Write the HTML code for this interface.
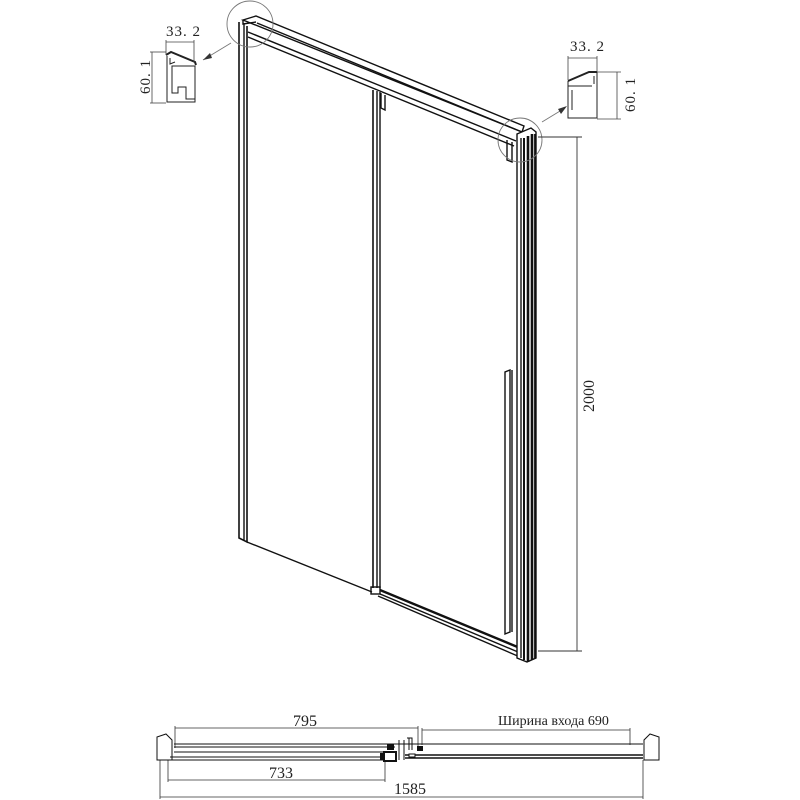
<!DOCTYPE html>
<html><head><meta charset="utf-8"><style>
html,body{margin:0;padding:0;background:#fff;width:800px;height:800px;overflow:hidden}
svg{display:block}
text{font-family:"Liberation Serif","Noto Serif CJK SC",serif;fill:#222}
</style></head><body>
<svg width="800" height="800" viewBox="0 0 800 800" xmlns="http://www.w3.org/2000/svg">
<g stroke="#111" fill="none" stroke-width="1.4">
<path d="M243,20 L256,16 L524,126 L522,132 Z" fill="#fff"/>
<line x1="257" y1="23" x2="522" y2="132"/>
<line x1="248" y1="32" x2="516" y2="141"/>
<line x1="248" y1="37" x2="514" y2="146"/>
<path d="M239,22 L239,538 L247,542 L247,26" stroke-width="1.6"/>
<line x1="244" y1="24" x2="244" y2="540"/>
<path d="M243,20 L243,24 L256,22"/>
<line x1="247" y1="542" x2="372" y2="592"/>
<line x1="373" y1="90" x2="373" y2="588" stroke-width="1.6"/>
<line x1="377" y1="91" x2="377" y2="588"/>
<line x1="380" y1="92" x2="380" y2="588"/>
<path d="M381,93 L381,108 L385,110 L385,95"/>
<rect x="371" y="587" width="9" height="7"/>
<line x1="380" y1="590" x2="520" y2="648" stroke-width="2.4"/>
<line x1="380" y1="594" x2="518" y2="652"/>
<line x1="378" y1="596" x2="520" y2="657"/>
<path d="M505,372 L505,634 L510,632 L510,370 Z"/>
<line x1="512" y1="370" x2="512" y2="632"/>
<path d="M517,134 L531,128 L536,132 L536,658 L527,662 L517,658 Z" fill="#fff"/>
<line x1="521" y1="138" x2="521" y2="658"/>
<line x1="524" y1="138" x2="524" y2="660" stroke-width="2"/>
<line x1="528" y1="136" x2="528" y2="662" stroke-width="2.6"/>
<line x1="532" y1="134" x2="532" y2="660" stroke-width="2.6"/>
<line x1="535" y1="134" x2="535" y2="658" stroke-width="1.8"/>
<path d="M507,140 L507,160 L512,162 L512,142"/>
</g>
<g stroke="#777" fill="none" stroke-width="0.9">
<circle cx="250" cy="24" r="23"/>
<circle cx="520" cy="140" r="22"/>
<line x1="231" y1="43" x2="203" y2="60"/>
<line x1="542" y1="122" x2="565" y2="108"/>
</g>
<path d="M203,60 L210,53 L212,58 Z" fill="#333"/>
<path d="M567,106 L558,109 L561,114 Z" fill="#333"/>
<g stroke="#333" stroke-width="0.9">
<line x1="538" y1="137" x2="582" y2="137"/>
<line x1="538" y1="651" x2="582" y2="651"/>
<line x1="577" y1="137" x2="577" y2="651"/>
</g>
<text font-size="16" transform="translate(594,412) rotate(-90)">2000</text>
<g stroke="#222" fill="none" stroke-width="1">
<path d="M166,55 L171,52 L195,62 L196,65" stroke-width="2"/>
<path d="M167,56 L167,102 L195,102 L195,99 L186,99 L186,87 L178,87 L178,93 L172,93 L172,66 L195,66 L195,99"/>
<path d="M170,58 L170,64 L175,62"/>
<line x1="166" y1="42" x2="194" y2="42" stroke="#444" stroke-width="0.8"/>
<line x1="166" y1="40" x2="166" y2="55" stroke="#444" stroke-width="0.8"/>
<line x1="194" y1="40" x2="194" y2="62" stroke="#444" stroke-width="0.8"/>
<line x1="152" y1="52" x2="152" y2="103" stroke="#444" stroke-width="0.8"/>
<line x1="150" y1="52" x2="166" y2="52" stroke="#444" stroke-width="0.8"/>
<line x1="150" y1="103" x2="166" y2="103" stroke="#444" stroke-width="0.8"/>
</g>
<text x="166" y="36" font-size="15" letter-spacing="1">33. 2</text>
<text font-size="15" letter-spacing="1" transform="translate(150,94) rotate(-90)">60. 1</text>
<g stroke="#222" fill="none" stroke-width="1">
<path d="M568,81 L589,72 L597,72" stroke-width="2"/>
<path d="M568,81 L568,118 L597,118 L597,72 M568,86 L592,86"/>
<path d="M594,76 L594,84 M572,90 L572,110"/>
<line x1="568" y1="58" x2="597" y2="58" stroke="#444" stroke-width="0.8"/>
<line x1="568" y1="56" x2="568" y2="80" stroke="#444" stroke-width="0.8"/>
<line x1="597" y1="56" x2="597" y2="72" stroke="#444" stroke-width="0.8"/>
<line x1="617" y1="72" x2="617" y2="119" stroke="#444" stroke-width="0.8"/>
<line x1="597" y1="72" x2="621" y2="72" stroke="#444" stroke-width="0.8"/>
<line x1="597" y1="119" x2="621" y2="119" stroke="#444" stroke-width="0.8"/>
</g>
<text x="570" y="51" font-size="15" letter-spacing="1">33. 2</text>
<text font-size="15" letter-spacing="1" transform="translate(635,112) rotate(-90)">60. 1</text>
<g stroke="#333" stroke-width="0.8" fill="none">
<line x1="175" y1="728" x2="418" y2="728"/>
<line x1="175" y1="726" x2="175" y2="748"/>
<line x1="418" y1="726" x2="418" y2="748"/>
<line x1="422" y1="730" x2="630" y2="730"/>
<line x1="422" y1="728" x2="422" y2="745"/>
<line x1="630" y1="728" x2="630" y2="745"/>
<line x1="168" y1="780" x2="385" y2="780"/>
<line x1="168" y1="760" x2="168" y2="782"/>
<line x1="385" y1="758" x2="385" y2="782"/>
<line x1="160" y1="797" x2="643" y2="797"/>
<line x1="160" y1="760" x2="160" y2="799"/>
<line x1="643" y1="760" x2="643" y2="799"/>
</g>
<text x="293" y="726" font-size="16">795</text>
<text x="498" y="725" font-size="14">Ширина входа 690</text>
<text x="269" y="778" font-size="16">733</text>
<text x="394" y="794" font-size="16">1585</text>
<g stroke="#111" fill="none" stroke-width="1">
<path d="M157,760 L157,737 L166,734 L172,740 L172,760 Z"/>
<path d="M659,760 L659,737 L650,734 L644,740 L644,760 Z"/>
<line x1="174" y1="744" x2="420" y2="744"/>
<line x1="174" y1="747" x2="395" y2="747"/>
<line x1="174" y1="752" x2="395" y2="752"/>
<line x1="170" y1="757" x2="395" y2="757"/>
<line x1="170" y1="760" x2="395" y2="760"/>
<line x1="420" y1="744" x2="643" y2="744"/>
<line x1="405" y1="755" x2="643" y2="755" stroke-width="1.6"/>
<line x1="405" y1="758" x2="643" y2="758" stroke-width="1.6"/>
<line x1="399" y1="740" x2="399" y2="760"/>
<line x1="404" y1="740" x2="404" y2="760"/>
<path d="M407,738 L412,738 L412,750 M409,738 L409,750"/>
</g>
<rect x="387" y="744" width="7" height="6" fill="#111"/>
<rect x="384" y="752" width="12" height="9" fill="#fff" stroke="#111" stroke-width="2"/>
<rect x="380" y="753" width="5" height="7" fill="#111"/>
<rect x="417" y="746" width="6" height="5" fill="#111"/>
<rect x="409" y="754" width="6" height="3" fill="#fff" stroke="#111"/>
</svg>
</body></html>
